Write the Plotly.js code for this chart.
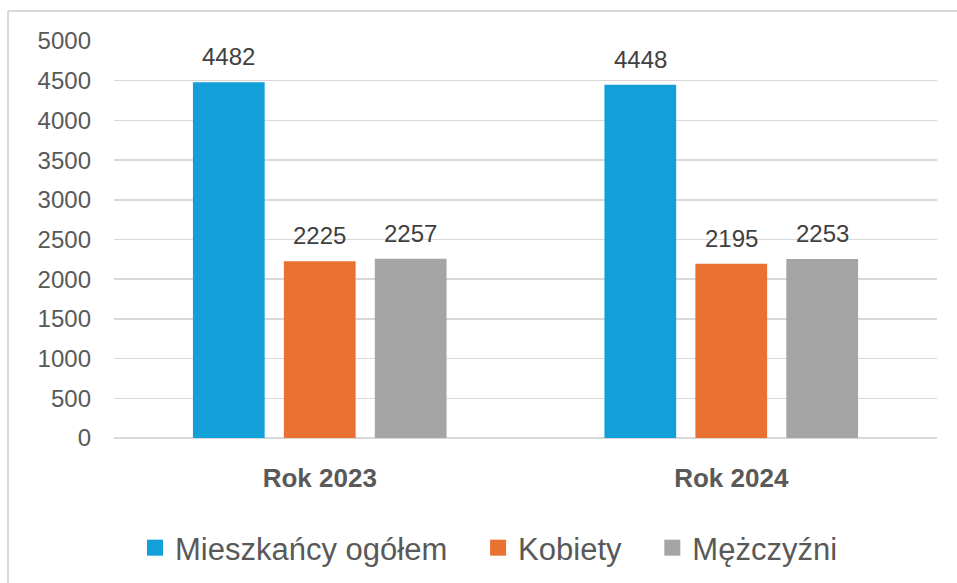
<!DOCTYPE html>
<html>
<head>
<meta charset="utf-8">
<script src="https://cdn.plot.ly/plotly-3.0.1.min.js"></script>
<style>
  html, body { margin: 0; padding: 0; background: #ffffff; }
  #chart { width: 957px; height: 583px; }
</style>
</head>
<body>
<div id="chart"></div>
<script>
// ---- data ----
const categories = ['Rok 2023', 'Rok 2024'];
const seriesNames = ['Mieszkańcy ogółem', 'Kobiety', 'Mężczyźni'];
const valuesTotal = [4482, 4448];
const valuesWomen = [2225, 2195];
const valuesMen = [2257, 2253];
const seriesValues = [valuesTotal, valuesWomen, valuesMen];
const seriesColors = ['#139FD7', '#E97132', '#A5A5A5'];
const yTicks = [0, 500, 1000, 1500, 2000, 2500, 3000, 3500, 4000, 4500, 5000];

// ---- style ----
const FONT = 'Liberation Sans, Arial, sans-serif';
const BARGAP = 0.337;
const BARGROUPGAP = 0.211;
const LEGEND_PAD = '\u00a0\u00a0\u00a0';

const traces = seriesValues.map((vals, i) => ({
  type: 'bar',
  name: seriesNames[i],
  x: categories,
  y: vals,
  marker: { color: seriesColors[i], line: { width: 0 } },
  hoverinfo: 'x+y+name',
  showlegend: false
}));

// legend-only entries with larger square symbols
seriesNames.forEach((n, i) => {
  traces.push({
    type: 'scatter',
    mode: 'markers',
    name: i < seriesNames.length - 1 ? n + LEGEND_PAD : n,
    x: [null],
    y: [null],
    marker: { symbol: 'square', size: 16, color: seriesColors[i] },
    showlegend: true,
    hoverinfo: 'skip'
  });
});

// value labels above bars
const slot = (1 - BARGAP) / seriesValues.length;
const annotations = [];
seriesValues.forEach((vals, i) => {
  vals.forEach((v, j) => {
    annotations.push({
      x: j + (i - (seriesValues.length - 1) / 2) * slot,
      y: v,
      xref: 'x',
      yref: 'y',
      text: String(v),
      showarrow: false,
      yanchor: 'bottom',
      yshift: 10,
      font: { family: FONT, size: 24, color: '#404040' }
    });
  });
});

const layout = {
  width: 957,
  height: 583,
  margin: { l: 114, r: 20, t: 41, b: 145 },
  paper_bgcolor: '#ffffff',
  plot_bgcolor: '#ffffff',
  barmode: 'group',
  bargap: BARGAP,
  bargroupgap: BARGROUPGAP,
  font: { family: FONT, color: '#595959' },
  xaxis: {
    type: 'category',
    showgrid: false,
    zeroline: false,
    showline: false,
    ticks: '',
    ticklabelstandoff: 22,
    tickfont: { family: FONT, size: 26, color: '#595959', weight: 'bold' },
    fixedrange: true
  },
  yaxis: {
    range: [0, 5000],
    tickvals: yTicks,
    ticktext: yTicks.map(String),
    showgrid: true,
    gridcolor: '#d9d9d9',
    gridwidth: 1.5,
    zeroline: true,
    zerolinecolor: '#d9d9d9',
    zerolinewidth: 1.5,
    showline: false,
    ticks: '',
    ticklabelstandoff: 22,
    tickfont: { family: FONT, size: 24, color: '#595959' },
    fixedrange: true
  },
  legend: {
    orientation: 'h',
    xref: 'container',
    yref: 'container',
    x: 0.511,
    xanchor: 'center',
    y: 0.06,
    yanchor: 'middle',
    font: { family: FONT, size: 31, color: '#595959' },
    bgcolor: 'rgba(0,0,0,0)'
  },
  annotations: annotations,
  shapes: [
    {
      type: 'line', xref: 'paper', yref: 'paper',
      x0: -0.1288, x1: 1.06, y0: 1.0756, y1: 1.0756,
      line: { color: '#d9d9d9', width: 2 }
    },
    {
      type: 'line', xref: 'paper', yref: 'paper',
      x0: -0.1288, x1: -0.1288, y0: 1.0756, y1: -0.45,
      line: { color: '#d9d9d9', width: 2 }
    }
  ],
  showlegend: true
};

Plotly.newPlot('chart', traces, layout, { displayModeBar: false, staticPlot: true });
</script>
</body>
</html>
